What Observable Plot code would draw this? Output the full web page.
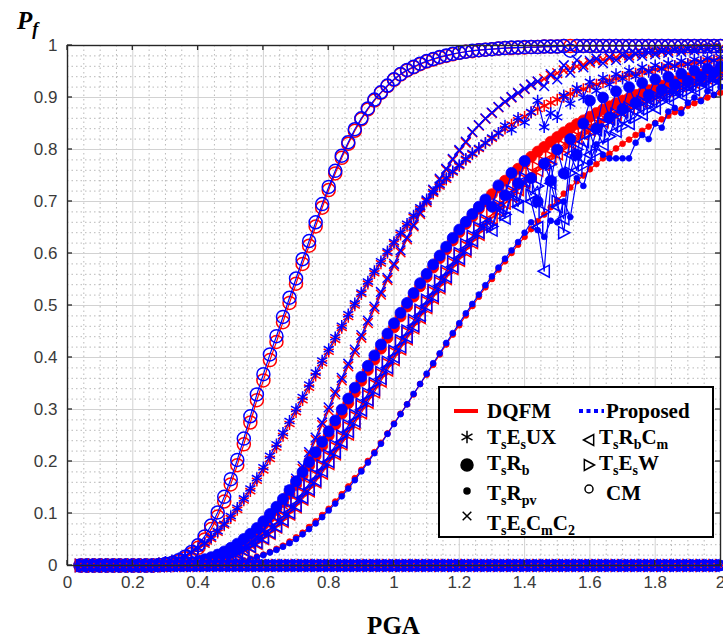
<!DOCTYPE html>
<html><head><meta charset="utf-8">
<script src="https://cdn.jsdelivr.net/npm/d3@7"></script>
<script src="https://cdn.jsdelivr.net/npm/@observablehq/plot@0.6"></script>
<style>body{margin:0;background:#fff}#chart{width:723px;height:639px}</style>
</head><body><div id="chart"></div>
<script>
// ---------- data ----------
const pga = [
0.04,0.06,0.08,0.10,0.12,0.14,0.16,0.18,0.20,0.22,
0.24,0.26,0.28,0.30,0.32,0.34,0.36,0.38,0.40,0.42,
0.44,0.46,0.48,0.50,0.52,0.54,0.56,0.58,0.60,0.62,
0.64,0.66,0.68,0.70,0.72,0.74,0.76,0.78,0.80,0.82,
0.84,0.86,0.88,0.90,0.92,0.94,0.96,0.98,1.00,1.02,
1.04,1.06,1.08,1.10,1.12,1.14,1.16,1.18,1.20,1.22,
1.24,1.26,1.28,1.30,1.32,1.34,1.36,1.38,1.40,1.42,
1.44,1.46,1.48,1.50,1.52,1.54,1.56,1.58,1.60,1.62,
1.64,1.66,1.68,1.70,1.72,1.74,1.76,1.78,1.80,1.82,
1.84,1.86,1.88,1.90,1.92,1.94,1.96,1.98,2.00];

// DQFM (red)
const cmDQFM = [
0,0,0,0,0,0,0,0,0,0,
0,0,0.001,0.002,0.004,0.008,0.014,0.022,0.034,0.050,
0.070,0.094,0.123,0.156,0.193,0.233,0.275,0.318,0.356,0.395,
0.430,0.468,0.505,0.542,0.580,0.615,0.652,0.688,0.722,0.754,
0.784,0.811,0.836,0.858,0.877,0.894,0.909,0.922,0.934,0.944,
0.952,0.958,0.964,0.969,0.973,0.977,0.980,0.983,0.986,0.988,
0.989,0.991,0.992,0.993,0.994,0.995,0.995,0.996,0.996,0.997,
0.997,0.998,0.998,0.998,0.999,0.999,0.999,0.999,0.999,0.999,
0.999,0.999,0.999,0.999,0.999,0.999,0.999,0.999,0.999,0.999,
0.999,0.999,0.999,0.999,0.999,0.999,0.999,0.999,0.999];
const tsesuxDQFM = [
0,0,0,0,0,0,0,0,0,0.001,
0.001,0.002,0.004,0.006,0.009,0.013,0.018,0.024,0.032,0.040,
0.051,0.063,0.077,0.091,0.107,0.125,0.143,0.163,0.183,0.205,
0.227,0.249,0.272,0.295,0.318,0.342,0.365,0.389,0.411,0.434,
0.457,0.478,0.500,0.522,0.542,0.562,0.581,0.601,0.619,0.636,
0.653,0.670,0.686,0.701,0.715,0.729,0.742,0.756,0.768,0.780,
0.791,0.801,0.812,0.821,0.831,0.840,0.848,0.856,0.863,0.871,
0.878,0.884,0.890,0.896,0.901,0.907,0.912,0.916,0.921,0.925,
0.929,0.933,0.936,0.940,0.943,0.946,0.949,0.952,0.954,0.957,
0.959,0.961,0.963,0.965,0.967,0.969,0.971,0.972,0.974];
const tsescmc2DQFM = [
0,0,0,0,0,0,0,0,0,0,
0,0,0,0,0,0,0.001,0.001,0.002,0.003,
0.005,0.008,0.012,0.017,0.023,0.031,0.040,0.052,0.065,0.081,
0.099,0.117,0.139,0.162,0.186,0.213,0.241,0.270,0.298,0.329,
0.356,0.383,0.410,0.438,0.466,0.493,0.521,0.549,0.576,0.602,
0.627,0.652,0.676,0.699,0.721,0.741,0.761,0.780,0.797,0.813,
0.833,0.846,0.859,0.870,0.881,0.891,0.900,0.908,0.916,0.924,
0.930,0.936,0.942,0.947,0.952,0.956,0.960,0.963,0.967,0.970,
0.973,0.975,0.977,0.980,0.981,0.983,0.985,0.986,0.987,0.988,
0.990,0.991,0.992,0.992,0.993,0.994,0.994,0.995,0.995];
const tsrbDQFM = [
0,0,0,0,0,0,0,0,0,0,
0,0,0,0.001,0.001,0.002,0.003,0.005,0.007,0.010,
0.014,0.018,0.024,0.031,0.038,0.047,0.057,0.067,0.080,0.093,
0.107,0.122,0.138,0.155,0.173,0.192,0.211,0.230,0.250,0.271,
0.292,0.312,0.333,0.355,0.376,0.396,0.417,0.438,0.458,0.479,
0.498,0.517,0.537,0.555,0.573,0.591,0.608,0.625,0.641,0.657,
0.671,0.686,0.700,0.714,0.727,0.740,0.751,0.763,0.774,0.786,
0.796,0.805,0.815,0.824,0.833,0.841,0.849,0.856,0.863,0.870,
0.877,0.883,0.889,0.894,0.899,0.905,0.909,0.914,0.918,0.923,
0.927,0.931,0.934,0.937,0.940,0.944,0.947,0.949,0.952];
const tsrbcmDQFM = [
0,0,0,0,0,0,0,0,0,0,
0,0,0,0,0.001,0.001,0.001,0.002,0.004,0.005,
0.007,0.010,0.013,0.018,0.023,0.029,0.036,0.043,0.052,0.062,
0.074,0.085,0.099,0.113,0.128,0.144,0.161,0.178,0.196,0.215,
0.234,0.253,0.273,0.294,0.314,0.334,0.355,0.376,0.396,0.417,
0.436,0.457,0.477,0.496,0.515,0.534,0.552,0.571,0.587,0.605,
0.621,0.637,0.653,0.668,0.683,0.697,0.710,0.723,0.736,0.749,
0.760,0.771,0.782,0.792,0.803,0.812,0.821,0.830,0.838,0.846,
0.854,0.861,0.868,0.875,0.881,0.887,0.892,0.898,0.903,0.908,
0.913,0.917,0.922,0.926,0.929,0.933,0.937,0.940,0.943];
const tsewDQFM = [
0,0,0,0,0,0,0,0,0,0,
0,0,0,0,0.001,0.001,0.002,0.003,0.004,0.006,
0.008,0.011,0.015,0.020,0.025,0.032,0.039,0.047,0.057,0.068,
0.080,0.092,0.106,0.121,0.137,0.153,0.171,0.189,0.207,0.226,
0.245,0.265,0.285,0.306,0.326,0.346,0.367,0.387,0.408,0.428,
0.447,0.467,0.487,0.506,0.525,0.543,0.562,0.580,0.596,0.613,
0.629,0.645,0.660,0.675,0.689,0.703,0.716,0.729,0.741,0.754,
0.765,0.775,0.786,0.796,0.806,0.815,0.824,0.833,0.841,0.849,
0.857,0.864,0.871,0.877,0.883,0.889,0.894,0.900,0.905,0.910,
0.914,0.919,0.923,0.927,0.931,0.934,0.938,0.941,0.944];
const tsrpvDQFM = [
0,0,0,0,0,0,0,0,0,0,
0,0,0,0,0,0,0,0,0.001,0.001,
0.002,0.003,0.004,0.006,0.007,0.010,0.013,0.017,0.021,0.026,
0.032,0.038,0.046,0.054,0.063,0.074,0.085,0.097,0.109,0.123,
0.137,0.152,0.168,0.184,0.201,0.218,0.236,0.254,0.273,0.292,
0.310,0.329,0.349,0.367,0.386,0.406,0.425,0.444,0.462,0.481,
0.499,0.517,0.535,0.551,0.569,0.585,0.601,0.617,0.632,0.647,
0.662,0.675,0.689,0.702,0.715,0.727,0.739,0.750,0.762,0.772,
0.783,0.792,0.802,0.811,0.819,0.828,0.836,0.844,0.851,0.858,
0.865,0.872,0.877,0.884,0.889,0.895,0.900,0.905,0.909];

// Proposed (blue)
const cmProp = [
0,0,0,0,0,0,0,0,0,0,
0,0,0.001,0.003,0.005,0.010,0.017,0.026,0.039,0.056,
0.077,0.102,0.132,0.166,0.203,0.244,0.287,0.329,0.368,0.406,
0.441,0.478,0.515,0.552,0.589,0.624,0.660,0.695,0.728,0.759,
0.788,0.814,0.839,0.860,0.879,0.896,0.910,0.923,0.935,0.945,
0.953,0.959,0.965,0.970,0.974,0.978,0.981,0.984,0.986,0.988,
0.990,0.991,0.992,0.993,0.994,0.995,0.996,0.996,0.997,0.997,
0.997,0.998,0.998,0.998,0.999,0.990,0.999,0.999,0.999,0.999,
0.999,0.999,0.999,0.999,0.999,0.999,0.999,0.999,0.999,0.999,
0.999,0.999,0.999,0.999,0.999,0.999,0.999,0.999,0.999];
const tsesuxProp = [
0,0,0,0,0,0,0,0,0,0.001,
0.001,0.002,0.004,0.007,0.010,0.014,0.019,0.026,0.034,0.043,
0.054,0.066,0.080,0.095,0.111,0.129,0.148,0.168,0.189,0.211,
0.233,0.255,0.278,0.301,0.324,0.348,0.371,0.394,0.416,0.439,
0.461,0.483,0.504,0.525,0.546,0.566,0.585,0.604,0.622,0.640,
0.657,0.673,0.689,0.704,0.718,0.732,0.745,0.758,0.770,0.782,
0.793,0.803,0.813,0.823,0.832,0.846,0.838,0.861,0.852,0.872,
0.894,0.843,0.870,0.862,0.904,0.888,0.918,0.900,0.930,0.913,
0.938,0.925,0.945,0.936,0.952,0.941,0.958,0.949,0.962,0.955,
0.966,0.960,0.970,0.964,0.973,0.968,0.976,0.971,0.978];
const tsescmc2Prop = [
0,0,0,0,0,0,0,0,0,0,
0,0,0,0,0,0,0.001,0.001,0.002,0.004,
0.006,0.009,0.013,0.019,0.025,0.033,0.043,0.055,0.069,0.085,
0.103,0.122,0.144,0.167,0.191,0.218,0.246,0.275,0.304,0.334,
0.361,0.388,0.415,0.443,0.471,0.498,0.526,0.553,0.580,0.606,
0.631,0.655,0.679,0.702,0.723,0.744,0.763,0.782,0.799,0.815,
0.834,0.847,0.860,0.871,0.882,0.892,0.901,0.909,0.917,0.925,
0.931,0.922,0.945,0.935,0.962,0.948,0.972,0.958,0.970,0.975,
0.966,0.978,0.972,0.982,0.976,0.984,0.980,0.987,0.983,0.989,
0.986,0.991,0.988,0.993,0.990,0.994,0.992,0.995,0.993];
const tsrbProp = [
0,0,0,0,0,0,0,0,0,0,
0,0,0,0.001,0.002,0.003,0.004,0.006,0.008,0.012,
0.016,0.021,0.027,0.034,0.042,0.051,0.061,0.072,0.085,0.099,
0.113,0.128,0.145,0.162,0.180,0.199,0.218,0.238,0.258,0.279,
0.300,0.321,0.342,0.363,0.384,0.404,0.425,0.446,0.466,0.486,
0.505,0.524,0.543,0.561,0.579,0.596,0.613,0.630,0.646,0.661,
0.676,0.690,0.704,0.690,0.731,0.712,0.755,0.735,0.778,0.745,
0.700,0.773,0.740,0.800,0.754,0.820,0.790,0.850,0.894,0.840,
0.900,0.862,0.912,0.878,0.920,0.890,0.928,0.905,0.935,0.915,
0.940,0.925,0.946,0.932,0.952,0.940,0.956,0.948,0.960];
const tsrbcmProp = [
0,0,0,0,0,0,0,0,0,0,
0,0,0,0,0.001,0.001,0.002,0.002,0.004,0.006,
0.008,0.011,0.014,0.019,0.024,0.030,0.037,0.045,0.054,0.064,
0.076,0.088,0.102,0.116,0.131,0.147,0.164,0.182,0.200,0.219,
0.238,0.258,0.278,0.299,0.319,0.339,0.360,0.381,0.401,0.421,
0.440,0.461,0.481,0.500,0.519,0.538,0.556,0.575,0.591,0.609,
0.625,0.641,0.657,0.645,0.688,0.668,0.714,0.690,0.740,0.700,
0.650,0.566,0.735,0.690,0.667,0.790,0.760,0.815,0.790,0.838,
0.810,0.858,0.835,0.872,0.850,0.885,0.868,0.896,0.880,0.905,
0.895,0.914,0.905,0.922,0.915,0.930,0.924,0.936,0.932];
const tsewProp = [
0,0,0,0,0,0,0,0,0,0,
0,0,0,0,0.001,0.001,0.002,0.003,0.005,0.007,
0.009,0.012,0.016,0.021,0.027,0.034,0.041,0.049,0.059,0.070,
0.082,0.095,0.109,0.124,0.140,0.157,0.174,0.192,0.211,0.230,
0.249,0.269,0.289,0.310,0.330,0.350,0.371,0.391,0.412,0.432,
0.451,0.471,0.491,0.510,0.529,0.547,0.566,0.584,0.600,0.617,
0.633,0.649,0.664,0.652,0.693,0.675,0.720,0.700,0.745,0.712,
0.730,0.680,0.772,0.700,0.640,0.755,0.800,0.770,0.832,0.795,
0.850,0.825,0.868,0.845,0.880,0.862,0.892,0.878,0.903,0.893,
0.912,0.903,0.921,0.913,0.928,0.922,0.934,0.930,0.940];
const tsrpvProp = [
0,0,0,0,0,0,0,0,0,0,
0,0,0,0,0,0,0,0,0.001,0.001,
0.002,0.003,0.004,0.005,0.007,0.009,0.012,0.016,0.020,0.025,
0.030,0.036,0.043,0.051,0.060,0.070,0.081,0.093,0.106,0.119,
0.133,0.148,0.164,0.181,0.198,0.216,0.234,0.253,0.272,0.291,
0.310,0.330,0.349,0.369,0.389,0.408,0.428,0.447,0.466,0.485,
0.503,0.521,0.539,0.556,0.573,0.590,0.606,0.622,0.640,0.660,
0.645,0.632,0.663,0.660,0.700,0.670,0.745,0.730,0.775,0.810,
0.790,0.783,0.783,0.783,0.783,0.813,0.828,0.820,0.850,0.842,
0.873,0.880,0.870,0.890,0.900,0.893,0.912,0.905,0.920];

// row of markers lying on Pf = 0 across the whole PGA range
const zeroRow = [
0,0,0,0,0,0,0,0,0,0, 0,0,0,0,0,0,0,0,0,0,
0,0,0,0,0,0,0,0,0,0, 0,0,0,0,0,0,0,0,0,0,
0,0,0,0,0,0,0,0,0,0, 0,0,0,0,0,0,0,0,0,0,
0,0,0,0,0,0,0,0,0,0, 0,0,0,0,0,0,0,0,0,0,
0,0,0,0,0,0,0,0,0,0, 0,0,0,0,0,0,0,0,0];

const xTicks = [0,0.2,0.4,0.6,0.8,1,1.2,1.4,1.6,1.8,2];
const yTicks = [0,0.1,0.2,0.3,0.4,0.5,0.6,0.7,0.8,0.9,1];
const xMinor = [0.05,0.1,0.15,0.25,0.3,0.35,0.45,0.5,0.55,0.65,0.7,0.75,0.85,0.9,0.95,
  1.05,1.1,1.15,1.25,1.3,1.35,1.45,1.5,1.55,1.65,1.7,1.75,1.85,1.9,1.95];
const yMinor = [0.02,0.04,0.06,0.08,0.12,0.14,0.16,0.18,0.22,0.24,0.26,0.28,0.32,0.34,0.36,0.38,
  0.42,0.44,0.46,0.48,0.52,0.54,0.56,0.58,0.62,0.64,0.66,0.68,0.72,0.74,0.76,0.78,
  0.82,0.84,0.86,0.88,0.92,0.94,0.96,0.98];
const methodLabels = ["DQFM", "Proposed"];
const seriesLabels = ["T{s}E{s}UX", "T{s}R{b}C{m}", "T{s}R{b}", "T{s}E{s}W", "T{s}R{pv}", "CM", "T{s}E{s}C{m}C{2}"];
const xLabel = "PGA";

// ---------- styling ----------
const RED = "#ff0000", BLUE = "#0000ff";
const triLeft = {draw(ctx, size) { const r = Math.sqrt(size / Math.PI);
  ctx.moveTo(-r, 0); ctx.lineTo(r * 0.85, -r); ctx.lineTo(r * 0.85, r); ctx.closePath(); }};
const triRight = {draw(ctx, size) { const r = Math.sqrt(size / Math.PI);
  ctx.moveTo(r, 0); ctx.lineTo(-r * 0.85, -r); ctx.lineTo(-r * 0.85, r); ctx.closePath(); }};

const specs = [
  {red: cmDQFM, blue: cmProp, symbol: "circle", r: 6.5, filled: false},
  {red: tsesuxDQFM, blue: tsesuxProp, symbol: "asterisk", r: 5.5, filled: false},
  {red: tsescmc2DQFM, blue: tsescmc2Prop, symbol: "times", r: 4.5, filled: false},
  {red: tsrbDQFM, blue: tsrbProp, symbol: "circle", r: 5.5, filled: true},
  {red: tsrbcmDQFM, blue: tsrbcmProp, symbol: triLeft, r: 6, filled: false},
  {red: tsewDQFM, blue: tsewProp, symbol: triRight, r: 6, filled: false},
  {red: tsrpvDQFM, blue: tsrpvProp, symbol: "circle", r: 2.9, filled: true}
];
const table = vals => pga.map((x, i) => ({pga: x, p: vals[i]}));

function seriesMarks(vals, s, color) {
  const data = table(vals);
  return [
    Plot.line(data, {x: "pga", y: "p", stroke: color, strokeWidth: 1.2}),
    Plot.dot(data, {x: "pga", y: "p", symbol: s.symbol, r: s.r,
      stroke: color, strokeWidth: s.filled ? 0.8 : 1.5, fill: s.filled ? color : "none"})
  ];
}
const zeroData = table(zeroRow);
const zeroMarks = [
  Plot.dot(zeroData, {x: "pga", y: "p", symbol: triRight, r: 6, stroke: RED, strokeWidth: 1.3, fill: "none"}),
  Plot.dot(zeroData, {x: "pga", y: "p", symbol: "times", r: 4.5, stroke: RED, strokeWidth: 1.3, dx: 2}),
  Plot.dot(zeroData, {x: "pga", y: "p", symbol: triLeft, r: 6, stroke: BLUE, strokeWidth: 1.3, fill: "none"}),
  Plot.dot(zeroData, {x: "pga", y: "p", symbol: triRight, r: 6, stroke: BLUE, strokeWidth: 1.3, fill: "none", dx: 1}),
  Plot.dot(zeroData, {x: "pga", y: "p", symbol: "circle", r: 5, stroke: BLUE, strokeWidth: 1.3, fill: "none"}),
  Plot.dot(zeroData, {x: "pga", y: "p", symbol: "times", r: 4.5, stroke: BLUE, strokeWidth: 1.3})
];

const plot = Plot.plot({
  width: 723, height: 639,
  marginLeft: 67, marginRight: 3, marginTop: 45, marginBottom: 74,
  style: {fontFamily: "'Liberation Sans', Arial, sans-serif", background: "#fff"},
  x: {domain: [0, 2]},
  y: {domain: [0, 1]},
  marks: [
    Plot.gridX(xMinor, {stroke: "#a8a8a8", strokeOpacity: 0.8, strokeDasharray: "1.5,3"}),
    Plot.gridY(yMinor, {stroke: "#a8a8a8", strokeOpacity: 0.8, strokeDasharray: "1.5,3"}),
    Plot.gridX(xTicks, {stroke: "#d2d2d2", strokeOpacity: 1, strokeWidth: 1}),
    Plot.gridY(yTicks, {stroke: "#d2d2d2", strokeOpacity: 1, strokeWidth: 1}),
    ...specs.flatMap(s => seriesMarks(s.red, s, RED)),
    ...specs.flatMap(s => seriesMarks(s.blue, s, BLUE)),
    ...zeroMarks,
    Plot.frame({stroke: "#262626", strokeWidth: 1.4}),
    Plot.axisX(xTicks, {tickSize: 0, tickPadding: 10, fontSize: 17, fill: "#3a3a3a", label: null, tickFormat: d => String(d)}),
    Plot.axisY(yTicks, {tickSize: 0, tickPadding: 10, fontSize: 17, fill: "#3a3a3a", label: null, tickFormat: d => String(d)})
  ]
});
document.getElementById("chart").appendChild(plot);

// ---------- inward ticks, titles, legend ----------
const svg = d3.select(plot);
const xs = plot.scale("x"), ys = plot.scale("y");
const X = d3.scaleLinear(xs.domain, xs.range), Y = d3.scaleLinear(ys.domain, ys.range);
const [L, R] = xs.range, [B, T] = ys.range;
const tg = svg.append("g").attr("stroke", "#262626").attr("stroke-width", 1.3);
for (const v of xTicks) {
  tg.append("line").attr("x1", X(v)).attr("x2", X(v)).attr("y1", B).attr("y2", B - 5);
  tg.append("line").attr("x1", X(v)).attr("x2", X(v)).attr("y1", T).attr("y2", T + 5);
}
for (const v of yTicks) {
  tg.append("line").attr("y1", Y(v)).attr("y2", Y(v)).attr("x1", L).attr("x2", L + 5);
  tg.append("line").attr("y1", Y(v)).attr("y2", Y(v)).attr("x1", R).attr("x2", R - 5);
}

const serif = "'Liberation Serif', 'Times New Roman', serif";
// y label P_f
const pf = svg.append("text").attr("x", 17).attr("y", 29).attr("text-anchor", "start").attr("font-family", serif)
  .attr("font-weight", "bold").attr("font-style", "italic").attr("font-size", 25).attr("fill", "#000");
pf.append("tspan").text("P");
pf.append("tspan").text("f").attr("font-size", 18).attr("dy", 6);
// x label
svg.append("text").attr("x", (L + R) / 2).attr("y", 634).attr("text-anchor", "middle")
  .attr("font-family", serif).attr("font-weight", "bold").attr("font-size", 25).attr("fill", "#000").text(xLabel);

function rich(g, x, y, spec) {
  const t = g.append("text").attr("x", x).attr("y", y).attr("text-anchor", "start").attr("font-family", serif)
    .attr("font-weight", "bold").attr("font-size", 21).attr("fill", "#000");
  let down = false;
  for (const m of spec.matchAll(/([^{}]+)|\{([^}]+)\}/g)) {
    if (m[2] !== undefined) {
      const ts = t.append("tspan").text(m[2]).attr("font-size", 14);
      if (!down) { ts.attr("dy", 5); down = true; }
    } else {
      const ts = t.append("tspan").text(m[1]);
      if (down) { ts.attr("dy", -5); down = false; }
    }
  }
}
const lg = svg.append("g");
lg.append("rect").attr("x", 439).attr("y", 387).attr("width", 274).attr("height", 150)
  .attr("fill", "#fff").attr("stroke", "#000").attr("stroke-width", 2);
lg.append("line").attr("x1", 454).attr("x2", 478).attr("y1", 411).attr("y2", 411).attr("stroke", RED).attr("stroke-width", 4);
rich(lg, 487, 418, methodLabels[0]);
lg.append("line").attr("x1", 579).attr("x2", 604).attr("y1", 411).attr("y2", 411).attr("stroke", BLUE)
  .attr("stroke-width", 4).attr("stroke-dasharray", "4,3.5");
rich(lg, 606, 418, methodLabels[1]);
const sym = (type, r, cx, cy, filled) => lg.append("path")
  .attr("d", d3.symbol(type, Math.PI * r * r)()).attr("transform", `translate(${cx},${cy})`)
  .attr("fill", filled ? "#000" : "none").attr("stroke", "#000").attr("stroke-width", 1.5);
const leftCol = [[d3.symbolAsterisk, 6, false, 0, 437, 444], [d3.symbolCircle, 6, true, 2, 465, 470],
                 [d3.symbolCircle, 3, true, 4, 491, 500], [d3.symbolTimes, 4, false, 6, 516, 530]];
for (const [t, r, f, li, cy, by] of leftCol) { sym(t, r, 467, cy, f); rich(lg, 487, by, seriesLabels[li]); }
const rightCol = [[triLeft, 5.5, false, 1, 440, 444], [triRight, 5.5, false, 3, 465, 470], [d3.symbolCircle, 4, false, 5, 489, 500]];
for (const [t, r, f, li, cy, by] of rightCol) { sym(t, r, 589, cy, f); rich(lg, li === 5 ? 606 : 599, by, seriesLabels[li]); }
</script>
</body></html>
